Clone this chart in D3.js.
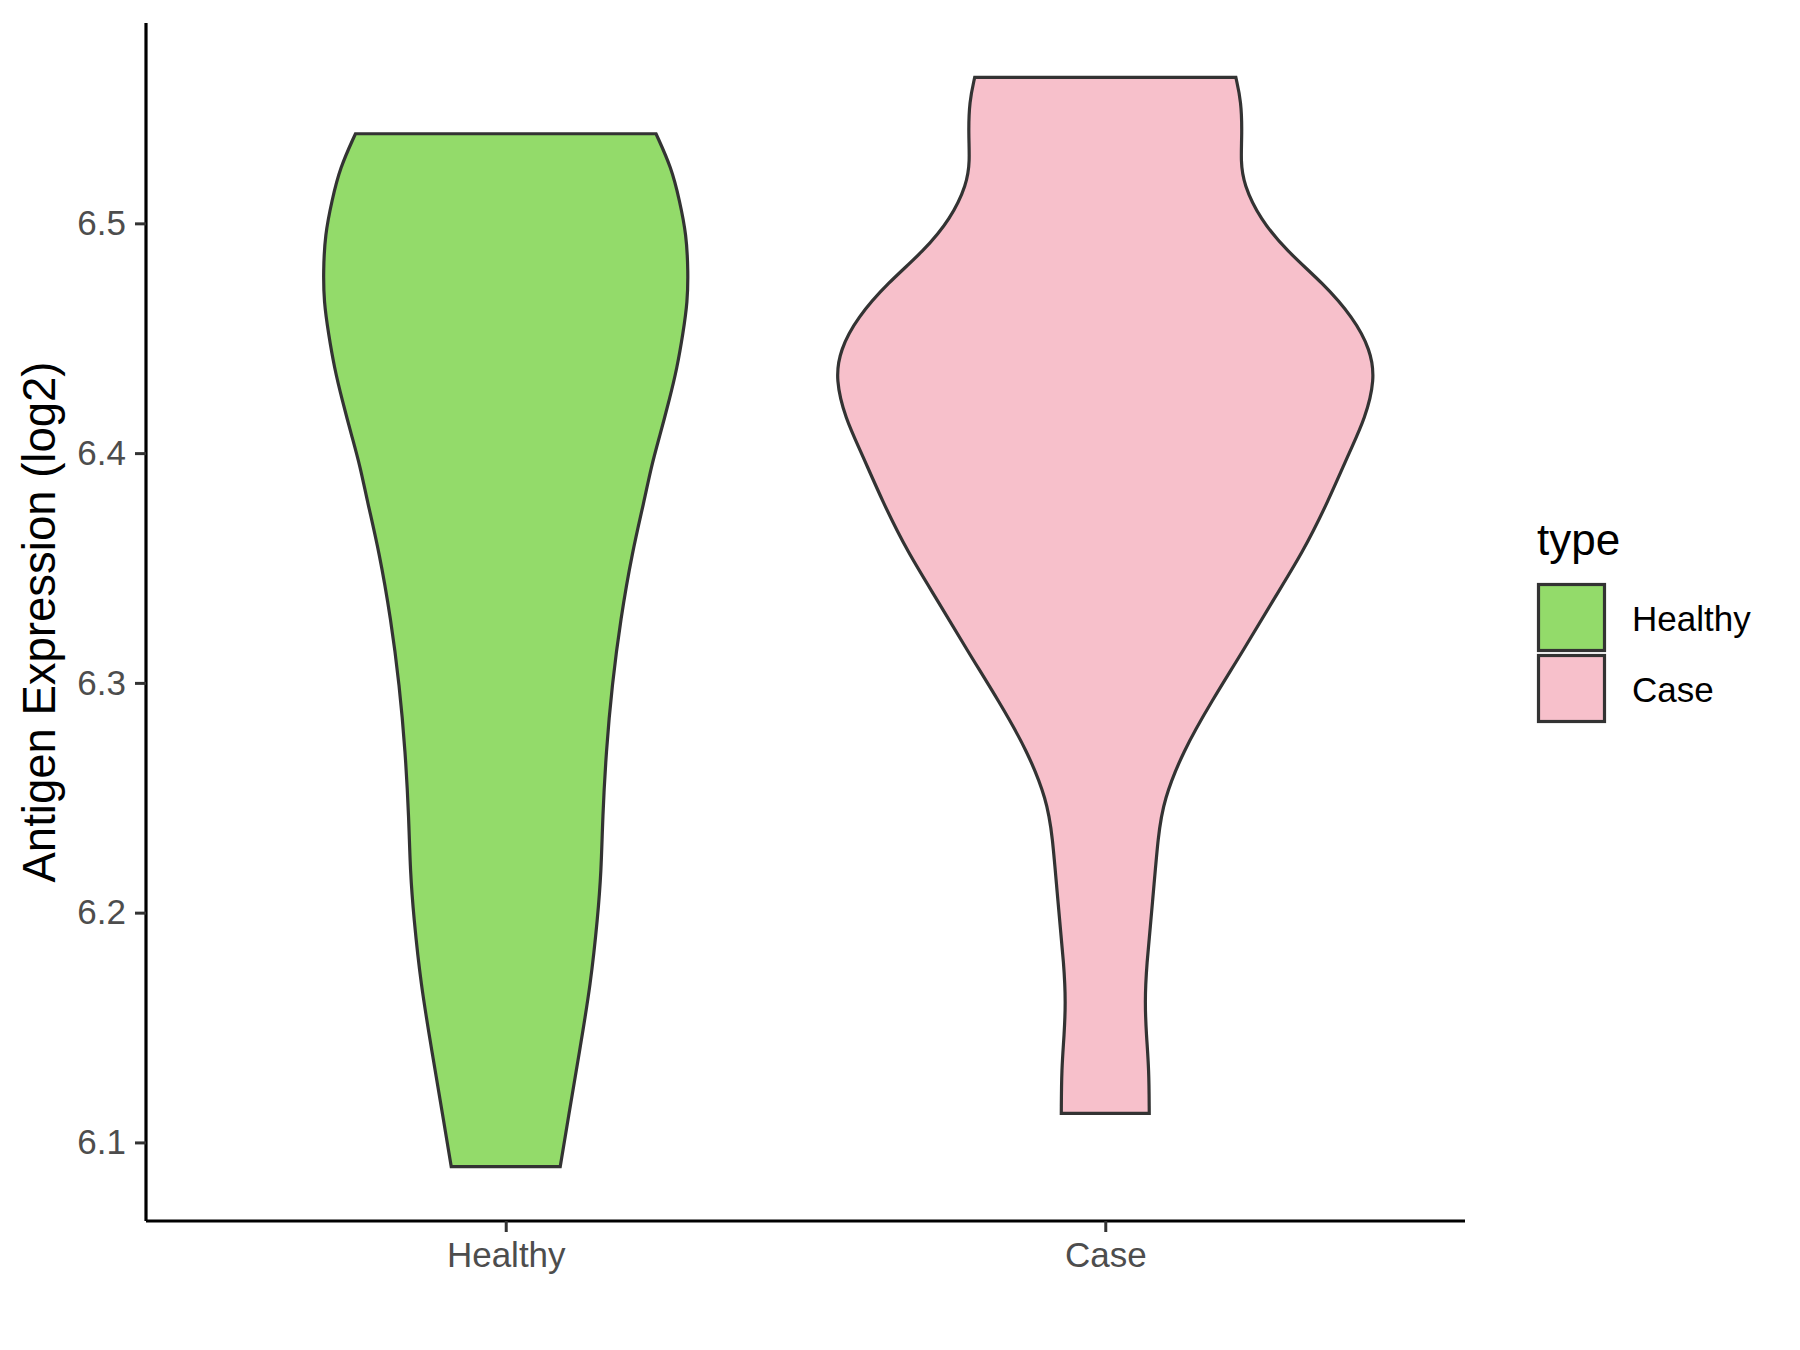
<!DOCTYPE html>
<html>
<head>
<meta charset="utf-8">
<script src="https://cdn.jsdelivr.net/npm/d3@7"></script>
<style>
  body { margin: 0; background: #fff; }
  svg { font-family: "Liberation Sans", Arial, sans-serif; }
</style>
</head>
<body>
<svg id="chart" width="1800" height="1350"></svg>
<script>
// categories and ticks
var groups = ['Healthy', 'Case'];
var yTicks = [6.1, 6.2, 6.3, 6.4, 6.5];

// violin outlines: expression level and scaled density (widest = 1)
var healthyLevels  = [6.539, 6.524, 6.510, 6.495, 6.479, 6.466, 6.452, 6.437, 6.423, 6.408, 6.394, 6.379,
                      6.357, 6.328, 6.299, 6.270, 6.241, 6.218, 6.198, 6.169, 6.140, 6.110, 6.0895];
var healthyDensity = [0.557, 0.615, 0.644, 0.670, 0.676, 0.674, 0.657, 0.635, 0.606, 0.572, 0.539, 0.513,
                      0.469, 0.426, 0.394, 0.372, 0.359, 0.354, 0.341, 0.315, 0.274, 0.231, 0.202];
var caseLevels  = [6.5635, 6.553, 6.539, 6.527, 6.517, 6.502, 6.488, 6.474, 6.459, 6.445, 6.432, 6.415,
                   6.401, 6.379, 6.357, 6.336, 6.314, 6.292, 6.270, 6.249, 6.234, 6.205, 6.176, 6.161,
                   6.147, 6.132, 6.1126];
var caseDensity = [0.484, 0.504, 0.507, 0.502, 0.513, 0.573, 0.672, 0.807, 0.919, 0.983, 1.000, 0.963,
                   0.907, 0.826, 0.733, 0.622, 0.511, 0.394, 0.287, 0.217, 0.196, 0.176, 0.152, 0.147,
                   0.152, 0.162, 0.163];

var fills = { Healthy: '#93DB6A', Case: '#F7C0CB' };
var outline = '#333333';

var svg = d3.select('#chart');
var margin = { top: 23, right: 335, bottom: 129, left: 146 };
var width = 1800 - margin.left - margin.right;
var height = 1350 - margin.top - margin.bottom;

var violins = [
  { name: 'Healthy', pts: healthyLevels.map((v, i) => ({ v: v, d: healthyDensity[i] })) },
  { name: 'Case', pts: caseLevels.map((v, i) => ({ v: v, d: caseDensity[i] })) }
];

// y domain = data range expanded by 5% like ggplot
var allLevels = healthyLevels.concat(caseLevels);
var lo = d3.min(allLevels), hi = d3.max(allLevels);
var pad = (hi - lo) * 0.05;

var x = d3.scalePoint().domain(groups).range([0, width]).padding(0.6);
var y = d3.scaleLinear().domain([lo - pad, hi + pad]).range([height, 0]);
var w = d3.scaleLinear().domain([0, 1]).range([0, x.step() * 0.45]);

var g = svg.append('g').attr('transform', `translate(${margin.left},${margin.top})`);

violins.forEach(function(vi) {
  var cx = x(vi.name);
  var area = d3.area()
    .curve(d3.curveBasis)
    .y(d => y(d.v))
    .x0(d => cx - w(d.d))
    .x1(d => cx + w(d.d));
  g.append('path')
    .datum(vi.pts)
    .attr('d', area)
    .style('fill', fills[vi.name])
    .style('stroke', outline)
    .style('stroke-width', 3.2);
});

// axes
var yAxis = g.append('g')
  .call(d3.axisLeft(y).tickValues(yTicks).tickSize(11).tickPadding(9).tickFormat(d3.format('.1f')));
var xAxis = g.append('g')
  .attr('transform', `translate(0,${height})`)
  .call(d3.axisBottom(x).tickSize(11).tickPadding(10));

[yAxis, xAxis].forEach(function(ax) {
  ax.select('.domain').style('stroke', '#000').style('stroke-width', 3.2);
  ax.selectAll('.tick line').style('stroke', outline).style('stroke-width', 3);
  ax.selectAll('.tick text').style('fill', '#4D4D4D').style('font-size', '35px')
    .style('font-family', '"Liberation Sans", Arial, sans-serif');
});
// drop the outer ticks of the domain path
yAxis.select('.domain').attr('d', `M0,0V${height}`);
xAxis.select('.domain').attr('d', `M0,0H${width}`);

svg.append('text')
  .attr('transform', `translate(55,${margin.top + height / 2}) rotate(-90)`)
  .attr('text-anchor', 'middle')
  .style('font-size', '45.5px')
  .style('fill', '#000')
  .text('Antigen Expression (log2)');

// legend
var legend = svg.append('g').attr('transform', 'translate(1537,555)');
legend.append('text')
  .attr('x', 0).attr('y', 0)
  .style('font-size', '44px')
  .text('type');
groups.forEach(function(name, i) {
  legend.append('rect')
    .attr('x', 1.5).attr('y', 29.5 + i * 71)
    .attr('width', 66).attr('height', 66)
    .style('fill', fills[name])
    .style('stroke', outline)
    .style('stroke-width', 3.2);
  legend.append('text')
    .attr('x', 95).attr('y', 75.5 + i * 71)
    .style('font-size', '35px')
    .text(name);
});
</script>
</body>
</html>
